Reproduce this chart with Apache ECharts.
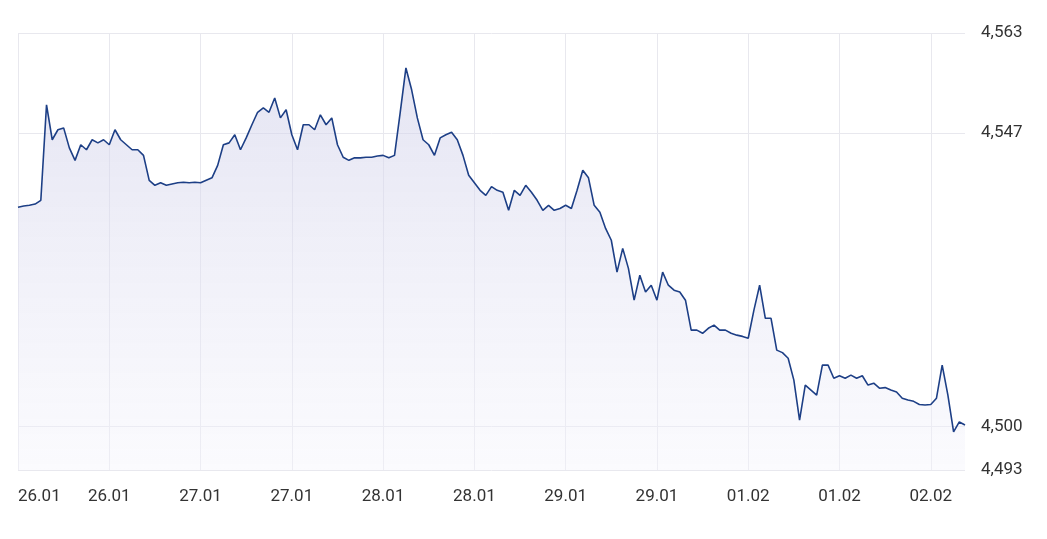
<!DOCTYPE html>
<html>
<head>
<meta charset="utf-8">
<script src="https://cdn.jsdelivr.net/npm/echarts@6/dist/echarts.min.js"></script>
<style>
html,body{margin:0;padding:0;background:#fff;}
#main{width:1047px;height:539px;}
</style>
</head>
<body>
<div id="main"></div>
<script>
// date labels, one per 16 samples
var dateLabels = ['26.01','26.01','27.01','27.01','28.01','28.01','29.01','29.01','01.02','01.02','02.02'];
var yTicks = [4493, 4500, 4547, 4563];
var prices = [
4535.1,4535.3,4535.4,4535.6,4536.2,4551.5,4545.9,4547.5,4547.8,4544.6,
4542.6,4545.1,4544.3,4545.9,4545.4,4545.9,4545.1,4547.5,4545.9,4545.1,
4544.3,4544.3,4543.4,4539.4,4538.6,4539,4538.6,4538.8,4539,4539.1,
4539,4539.1,4539,4539.4,4539.8,4541.8,4545.1,4545.4,4546.7,4544.3,
4546.2,4548.3,4550.3,4551,4550.3,4552.6,4549.4,4550.7,4546.7,4544.3,
4548.3,4548.3,4547.5,4549.9,4548.3,4549.4,4545.1,4543.1,4542.6,4543,
4543,4543.1,4543.1,4543.3,4543.4,4543,4543.4,4550.3,4557.4,4553.9,
4549.4,4545.9,4545.1,4543.4,4546.2,4546.7,4547.1,4545.9,4543.4,4540.2,
4539,4537.8,4537,4538.4,4537.8,4537.5,4534.6,4537.8,4537,4538.6,
4537.5,4536.2,4534.6,4535.4,4534.6,4534.9,4535.4,4534.9,4537.8,4541,
4539.8,4535.4,4534.3,4531.7,4529.8,4524.7,4528.5,4525.3,4520.2,4524.2,
4521.5,4522.6,4520.2,4524.7,4522.6,4521.8,4521.5,4520.2,4515.4,4515.4,
4514.9,4515.7,4516.2,4515.4,4515.4,4514.9,4514.6,4514.4,4514.1,4518.6,
4522.6,4517.3,4517.3,4512.2,4511.8,4510.9,4507.4,4501,4506.6,4505.8,
4505,4509.8,4509.8,4507.7,4508.1,4507.7,4508.2,4507.7,4508.1,4506.6,
4506.9,4506.1,4506.2,4505.8,4505.5,4504.5,4504.2,4504,4503.5,4503.4,
4503.5,4504.5,4509.8,4505,4499.1,4500.7,4500.2
];

var categories = [];
for (var i = 0; i < prices.length; i++) {
    categories.push(i % 16 === 0 ? dateLabels[i / 16] : '');
}

var chart = echarts.init(document.getElementById('main'));
chart.setOption({
    animation: false,
    grid: {left: 18, right: 82, top: 33, bottom: 69},
    xAxis: {
        type: 'category',
        data: categories,
        boundaryGap: false,
        axisLine: {show: false},
        axisTick: {show: false},
        axisLabel: {
            interval: 15,
            alignMinLabel: 'left',
            color: '#333',
            fontSize: 17,
            fontFamily: 'Roboto',
            margin: 18
        },
        splitLine: {show: true, interval: 15, lineStyle: {color: '#e8e8ee', width: 1}}
    },
    yAxis: {
        type: 'value',
        position: 'right',
        min: 4493,
        max: 4563,
        axisLine: {show: false},
        axisTick: {show: false, customValues: yTicks},
        axisLabel: {
            customValues: yTicks,
            color: '#333',
            fontSize: 17,
            fontFamily: 'Roboto',
            margin: 16,
            formatter: function (v) { return '4,' + String(v).slice(1); }
        },
        splitLine: {show: true, lineStyle: {color: '#e8e8ee', width: 1}}
    },
    series: [{
        type: 'line',
        data: prices,
        symbol: 'none',
        lineStyle: {color: '#1d3f86', width: 1.6},
        areaStyle: {
            color: new echarts.graphic.LinearGradient(0, 0, 0, 1, [
                {offset: 0, color: 'rgba(205,205,232,0.75)'},
                {offset: 1, color: 'rgba(245,245,252,0.6)'}
            ])
        }
    }]
});
</script>
</body>
</html>
